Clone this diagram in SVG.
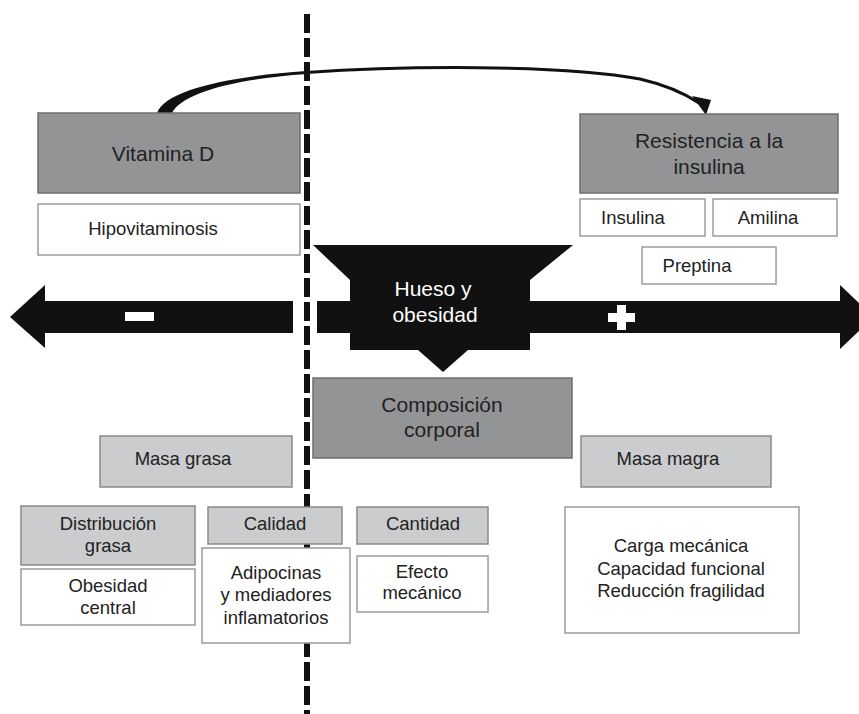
<svg xmlns="http://www.w3.org/2000/svg" width="859" height="714" viewBox="0 0 859 714">
<defs>
<style>
text{font-family:"Liberation Sans",Arial,sans-serif;fill:#222;text-anchor:middle}
.big{font-size:21px}
.sm{font-size:18.5px}
.dark{fill:#939496;stroke:#6f6f6f;stroke-width:1.5}
.light{fill:#cbcccd;stroke:#8a8a8a;stroke-width:1.5}
.white{fill:#fff;stroke:#9c9c9c;stroke-width:1.5}
.blk{fill:#111}
</style>
</defs>
<rect width="859" height="714" fill="#fff"/>

<g id="connectors">
<line x1="307" y1="14" x2="307" y2="714" stroke="#111" stroke-width="6" stroke-dasharray="19 5"/>
<path d="M157,113 C165,90 230,76 307,71 L307,74 C235,79 182,93 172,113 Z" class="blk"/>
<path d="M306,72.5 C400,66 560,64 640,79 C666,85 684,93 699,103" fill="none" stroke="#111" stroke-width="3"/>
<polygon points="692,96 711,100 706,115" class="blk"/>
</g>

<g id="axis">
<polygon class="blk" points="10,317 45,285 45,301 293,301 293,333 45,333 45,348"/>
<polygon class="blk" points="317,301 840,301 840,285 874,317 840,349 840,333 317,333"/>
<rect x="125" y="312" width="29" height="9" fill="#fff"/>
<path d="M617,305 h9 v8 h9 v9 h-9 v8 h-9 v-8 h-9 v-9 h9 Z" fill="#fff"/>
</g>

<g id="hueso">
<polygon class="blk" points="313,245 573,245 530,280 530,350 468,350 443,372 418,350 350,350 350,280"/>
<text class="big" x="433" y="296" style="fill:#fff">Hueso y</text>
<text class="big" x="435" y="322" style="fill:#fff">obesidad</text>
</g>

<g id="vitamina">
<rect class="dark" x="38" y="113" width="262" height="80"/>
<text class="big" x="163" y="161">Vitamina D</text>
</g>
<g id="hipovitaminosis">
<rect class="white" x="38" y="204" width="262" height="51"/>
<text class="sm" x="153" y="235">Hipovitaminosis</text>
</g>

<g id="resistencia">
<rect class="dark" x="580" y="114" width="258" height="79"/>
<text class="big" x="709" y="148">Resistencia a la</text>
<text class="big" x="709" y="174">insulina</text>
</g>
<g id="insulina">
<rect class="white" x="580" y="199" width="125" height="37"/>
<text class="sm" x="633" y="224">Insulina</text>
</g>
<g id="amilina">
<rect class="white" x="713" y="199" width="124" height="37"/>
<text class="sm" x="768" y="224">Amilina</text>
</g>
<g id="preptina">
<rect class="white" x="642" y="247" width="134" height="37"/>
<text class="sm" x="697" y="272">Preptina</text>
</g>

<g id="composicion">
<rect class="dark" x="313" y="378" width="259" height="80"/>
<text class="big" x="442" y="412">Composición</text>
<text class="big" x="442" y="437">corporal</text>
</g>

<g id="masagrasa">
<rect class="light" x="100" y="436" width="192" height="51"/>
<text class="sm" x="183" y="465">Masa grasa</text>
</g>
<g id="masamagra">
<rect class="light" x="581" y="436" width="190" height="51"/>
<text class="sm" x="668" y="465">Masa magra</text>
</g>

<g id="distribucion">
<rect class="light" x="21" y="506" width="174" height="59"/>
<text class="sm" x="108" y="530">Distribución</text>
<text class="sm" x="108" y="552">grasa</text>
</g>
<g id="obesidad">
<rect class="white" x="21" y="569" width="174" height="56"/>
<text class="sm" x="108" y="592">Obesidad</text>
<text class="sm" x="108" y="614">central</text>
</g>
<g id="calidad">
<rect class="light" x="208" y="507" width="134" height="37"/>
<text class="sm" x="275" y="530">Calidad</text>
</g>
<g id="adipocinas">
<rect class="white" x="202" y="548" width="148" height="95"/>
<text class="sm" x="276" y="579">Adipocinas</text>
<text class="sm" x="276" y="601">y mediadores</text>
<text class="sm" x="276" y="624">inflamatorios</text>
</g>
<g id="cantidad">
<rect class="light" x="357" y="507" width="131" height="37"/>
<text class="sm" x="423" y="530">Cantidad</text>
</g>
<g id="efecto">
<rect class="white" x="357" y="556" width="131" height="56"/>
<text class="sm" x="422" y="578">Efecto</text>
<text class="sm" x="422" y="599">mecánico</text>
</g>
<g id="carga">
<rect class="white" x="565" y="507" width="234" height="126"/>
<text class="sm" x="681" y="552">Carga mecánica</text>
<text class="sm" x="681" y="575">Capacidad funcional</text>
<text class="sm" x="681" y="597">Reducción fragilidad</text>
</g>
</svg>
